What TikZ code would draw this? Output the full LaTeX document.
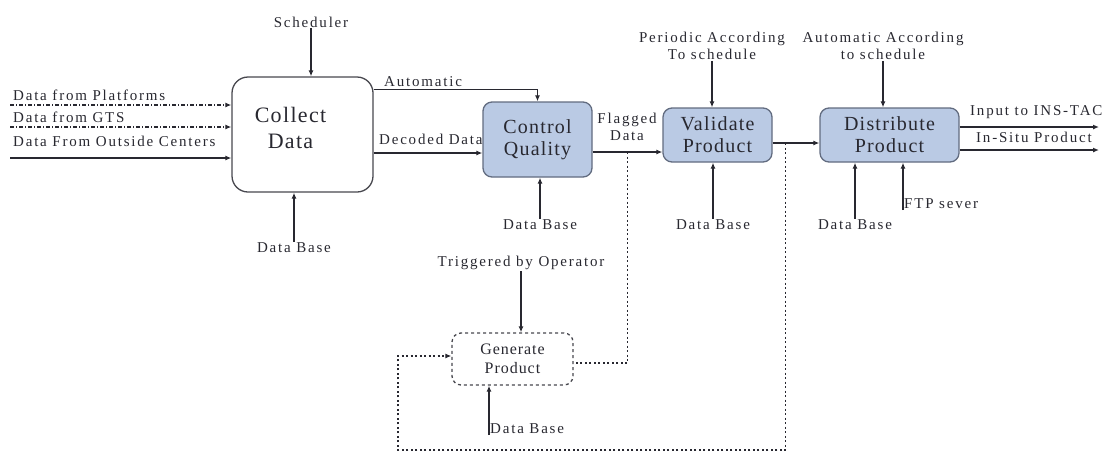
\documentclass[tikz,border=0pt]{standalone}
\usepackage{fontspec}
\setmainfont{Liberation Serif}[LetterSpace=12]
\usetikzlibrary{arrows.meta,positioning,calc}
\definecolor{Ink}{RGB}{40,40,48}
\definecolor{BoxBlue}{RGB}{186,202,228}
\definecolor{BoxEdge}{RGB}{98,108,128}
\newcommand{\procfont}[2]{\fontsize{#1}{#2}\selectfont\addfontfeatures{LetterSpace=6}}
\tikzset{
  proc/.style={rectangle,rounded corners=9pt,draw=BoxEdge,fill=BoxBlue,line width=1.3pt,
               font=\procfont{20}{22},text=Ink,align=center,inner sep=2pt},
  lbl/.style={font=\fontsize{15}{17}\selectfont,text=Ink,align=center,inner sep=1pt},
  flow/.style={-{Latex[length=6pt,width=5pt]},Ink,line width=1.2pt},
  link/.style={Ink,line width=1.1pt,dash pattern=on 2pt off 2.5pt},
}

\begin{document}
\begin{tikzpicture}[x=1pt,y=-1pt]
  \useasboundingbox (0,0) rectangle (1115,456);
  % process boxes
  \node[proc,fill=white,draw=Ink!85,rounded corners=16pt,minimum width=141pt,minimum height=115pt,
        font=\procfont{22}{26}] (collect) at (302.5,134.5)
        {Collect\rule{24pt}{0pt}\\Data\rule{24pt}{0pt}\\[-12pt]};
  \node[proc,minimum width=109pt,minimum height=75pt] (quality) at (537.5,139.5) {Control\\Quality};
  \node[proc,minimum width=109pt,minimum height=54pt] (validate) at (717.5,135) {Validate\\Product};
  \node[proc,minimum width=139pt,minimum height=54pt] (distrib) at (889.5,135) {Distribute\\Product};
  \node[proc,fill=white,draw=Ink!85,dashed,minimum width=121pt,minimum height=52pt,
        font=\procfont{16}{19}] (generate) at (512.5,359) {Generate\\Product};

  % controls and mechanisms
  \node[lbl] (sched) at (311,22) {Scheduler};
  \node[lbl] (period) at (712,46) {Periodic According\\To schedule};
  \node[lbl] (autosch) at (883,46) {Automatic According\\to schedule};
  \node[lbl] (trigger) at (521,263) {Triggered by Operator};
  \node[lbl] (dbCollect) at (294,248) {Data Base};
  \node[lbl] (dbQuality) at (540,225) {Data Base};
  \node[lbl] (dbValidate) at (713,225) {Data Base};
  \node[lbl] (dbDistrib) at (855,225) {Data Base};
  \node[lbl,anchor=west] (ftp) at (903,204) {FTP sever};
  \node[lbl,anchor=west] (dbGenerate) at (489,429) {Data Base};

  \draw[flow] (sched) -- (sched |- collect.north);
  \draw[flow] (period) -- (period |- validate.north);
  \draw[flow] (autosch) -- (autosch |- distrib.north);
  \draw[flow] (trigger) -- (trigger |- generate.north);
  \draw[flow] (dbCollect) -- (dbCollect |- collect.south);
  \draw[flow] (dbQuality) -- (dbQuality |- quality.south);
  \draw[flow] (dbValidate) -- (dbValidate |- validate.south);
  \draw[flow] (dbDistrib) -- (dbDistrib |- distrib.south);
  \draw[flow,line width=1.8pt] (ftp.south west) -- (ftp.south west |- distrib.south);
  \draw[flow] (dbGenerate.south west) -- (dbGenerate.south west |- generate.south);

  % inputs
  \coordinate (inPlat) at (10,105);
  \coordinate (inGts) at (10,127);
  \coordinate (inOut) at (10,158);
  \node[lbl,anchor=west] (lPlat) at (12,95) {Data from Platforms};
  \node[lbl,anchor=west] (lGts) at (12,117) {Data from GTS};
  \node[lbl,anchor=west] (lOut) at (12,141) {Data From Outside Centers};
  \draw[flow,dash pattern=on 4pt off 2pt on 1pt off 2pt] (inPlat) -- (inPlat -| collect.west);
  \draw[flow,dash pattern=on 4pt off 2pt on 1pt off 2pt] (inGts) -- (inGts -| collect.west);
  \draw[flow] (inOut) -- (inOut -| collect.west);

  % main chain
  \coordinate (autoA) at ([yshift=-13pt]collect.north east);
  \coordinate (decA) at ([yshift=-18.5pt]collect.east);
  \coordinate (flagA) at ([yshift=-12.5pt]quality.east);
  \coordinate (valA) at ([yshift=-8pt]validate.east);
  \draw[flow] (autoA) -| (quality.north);
  \node[lbl,anchor=south west] (lAuto) at (383,88) {Automatic};
  \draw[flow] (decA) -- (decA -| quality.west);
  \node[lbl,anchor=south west] (lDec) at (378,146) {Decoded Data};
  \draw[flow] (flagA) -- (flagA -| validate.west);
  \node[lbl] (lFlag) at (627,127) {Flagged\\Data};
  \draw[flow] (valA) -- (valA -| distrib.west);

  % outputs
  \coordinate (outIns) at ([yshift=8pt]distrib.east);
  \coordinate (outSitu) at ([yshift=-15pt]distrib.east);
  \draw[flow] (outIns) -- (1099,127);
  \draw[flow] (outSitu) -- (1099,150);
  \node[lbl,anchor=west] (lIns) at (969,112) {Input to INS-TAC};
  \node[lbl,anchor=west] (lSitu) at (975,137) {In-Situ Product};

  % dotted feedback to generate
  \coordinate (tapQ) at ($(flagA)!0.5!(flagA -| validate.west)$);
  \coordinate (tapV) at ($(valA)!0.27!(valA -| distrib.west)$);
  \coordinate (loopB) at (398,450);
  \draw[link] (tapQ) |- ([yshift=-4pt]generate.east);
  \draw[link,-{Latex[length=6pt,width=5pt]}] (tapV) |- (loopB) |- ([yshift=3pt]generate.west);
\end{tikzpicture}
\end{document}
